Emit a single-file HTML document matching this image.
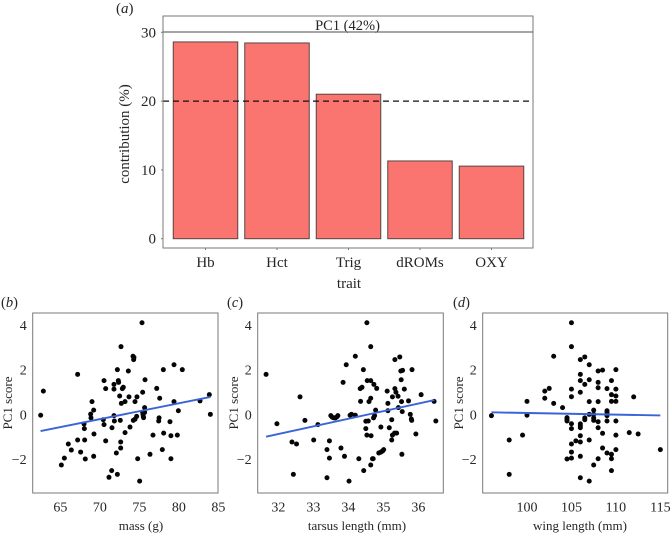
<!DOCTYPE html>
<html>
<head>
<meta charset="utf-8">
<style>
html,body{margin:0;padding:0;background:#fff;width:672px;height:534px;overflow:hidden}
svg{display:block}
text{font-family:"Liberation Serif",serif;fill:#262626}
</style>
</head>
<body>
<svg id="fig" width="672" height="534" viewBox="0 0 672 534" xmlns="http://www.w3.org/2000/svg">
<text x="116" y="13" font-size="15">(<tspan font-style="italic">a</tspan>)</text>
<text x="1" y="307" font-size="14.5">(<tspan font-style="italic">b</tspan>)</text>
<text x="227" y="307" font-size="14.5">(<tspan font-style="italic">c</tspan>)</text>
<text x="453" y="307" font-size="14.5">(<tspan font-style="italic">d</tspan>)</text>
<text transform="translate(129,134) rotate(-90)" font-size="15" text-anchor="middle">contribution (%)</text>
<text x="349" y="288" font-size="15" text-anchor="middle">trait</text>
<text transform="translate(12,403) rotate(-90)" font-size="13" text-anchor="middle">PC1 score</text>
<text x="141" y="530" font-size="13" text-anchor="middle">mass (g)</text>
<text transform="translate(238,403) rotate(-90)" font-size="13" text-anchor="middle">PC1 score</text>
<text x="357" y="530" font-size="13" text-anchor="middle">tarsus length (mm)</text>
<text transform="translate(463,403) rotate(-90)" font-size="13" text-anchor="middle">PC1 score</text>
<text x="580" y="530" font-size="13" text-anchor="middle">wing length (mm)</text>
</svg>
<script>
const traits = ["Hb","Hct","Trig","dROMs","OXY"];
const contributions = [28.6,28.45,21.0,11.3,10.55];
const contributionTicks = [0,10,20,30];
const referenceLevel = 20;
const scoreTicks = [-2,0,2,4];
const massTicks = [65,70,75,80,85];
const tarsusTicks = [32,33,34,35,36];
const wingTicks = [100,105,110,115];

const massX = [62.51,62.85,65.13,65.51,66.01,66.39,67.19,67.19,67.57,68.0,68.04,68.08,68.16,68.84,68.88,69.01,69.22,69.26,69.22,70.44,70.53,70.53,70.74,70.74,71.16,71.5,71.54,71.79,71.79,71.79,71.84,72.09,72.22,72.22,72.34,72.38,72.51,72.59,72.64,72.64,72.68,72.72,72.85,72.97,73.19,73.19,73.61,73.69,73.82,74.2,74.32,74.28,74.24,74.45,74.45,74.66,74.7,74.79,75.04,75.34,75.42,75.42,75.46,75.5,75.54,75.67,75.67,75.72,76.35,76.73,77.2,77.45,77.5,77.58,77.91,78.04,78.08,78.88,79.0,79.0,79.39,79.39,79.81,79.94,80.44,82.68,83.86,83.99];
const massScore = [-0.04,1.04,-2.27,-1.96,-1.33,-1.6,-1.15,1.79,-1.69,-0.43,-0.64,-1.15,-2.0,0.01,-0.16,0.57,0.19,-0.88,-1.88,-0.24,-0.46,1.51,1.15,-1.19,-2.82,-2.52,-0.6,-0.06,1.34,1.13,-0.3,-1.73,2.0,-2.69,1.51,1.43,0.82,-0.27,-1.24,-1.51,3.03,0.49,1.15,1.21,0.57,-0.82,1.94,0.78,-0.57,2.6,2.55,2.45,-0.27,-0.22,0.57,-0.09,0.78,-1.99,-2.99,4.1,0.99,0.09,0,-0.09,-0.15,0.3,0.09,1.55,-1.79,-0.93,1.16,-0.3,-0.16,0.72,-1.58,2.0,-0.84,-0.33,-1.99,-0.96,0.57,2.22,-0.93,0.16,2.0,0.6,0.88,0];
const massFitX = [62.5,84];
const massFitY = [-0.75,0.78];

const tarsusX = [31.65,31.96,32.39,32.43,32.52,32.62,32.76,33.01,33.13,33.39,33.39,33.46,33.46,33.5,33.54,33.59,33.63,33.67,33.7,33.79,33.85,33.89,33.94,34.02,34.05,34.09,34.2,34.2,34.3,34.34,34.35,34.39,34.43,34.44,34.5,34.5,34.53,34.53,34.54,34.57,34.59,34.64,34.64,34.64,34.64,34.65,34.69,34.71,34.72,34.73,34.75,34.78,34.81,34.87,34.93,34.93,34.98,35.01,35.11,35.13,35.13,35.17,35.24,35.24,35.26,35.26,35.32,35.33,35.33,35.36,35.38,35.42,35.43,35.47,35.5,35.51,35.52,35.53,35.54,35.55,35.6,35.72,35.77,35.8,35.81,35.82,35.93,36.08,36.45,36.5];
const tarsusScore = [1.79,-0.42,-1.24,-2.69,-1.33,0.78,-0.27,-1.15,-0.46,-1.58,-2.84,-1.19,-1.96,-0.06,-0.13,-0.16,-0.16,-0.12,-0.06,-1.51,1.43,-1.88,2.22,-2.99,-0.04,0,-0.04,2.6,-1.99,1.15,0.58,1.21,2.0,-2.52,-0.64,-0.31,4.1,-0.93,1.51,-0.3,0.57,3.03,1.51,0.72,-2.27,-0.96,-1.99,-1.99,-0.16,1.34,-0.06,0.19,1.16,-1.73,-0.57,-1.69,-1.64,-1.58,1.04,0.49,0.16,-0.6,-0.24,-1.15,0.78,-0.93,-0.84,2.45,1.15,0.99,-0.84,0.81,0.3,2.57,1.94,1.55,0.57,-1.79,0.12,1.97,1.13,0.6,0,-0.21,-0.27,2.0,-0.88,0.88,0.58,-0.3];
const tarsusFitX = [31.65,36.46];
const tarsusFitY = [-1.0,0.64];

const wingX = [96,98,98,99.5,100,100,102,102,102.5,103,103,104,104.5,104.5,104.5,104.5,105,105,105,105,105,105,105,105,105,105.5,106,106,106,106,106,106,106,106,106,106,106,106.5,106.5,106.5,106.5,107,107,107,107,107,107,107.5,107.5,107.5,107.5,107.5,108,108,108,108,108,108,108,108.5,108.5,108.5,109,109,109,109,109,109,109.5,109.5,109.5,109.5,109.5,109.5,110,110,110,110,110,110,110,111.5,112,112.5,115];
const wingScore = [-0.06,-1.15,-2.69,-0.93,0.58,-0.04,1.04,0.72,1.16,2.6,0.49,0.3,-0.15,-0.22,-0.3,-2.0,4.1,3.03,1.13,0.79,-0.42,-0.64,-1.33,-1.69,-1.96,-1.19,2.45,1.79,1.51,0.99,-0.43,-0.52,-0.6,-0.96,-1.24,-1.88,-2.84,2.57,1.34,-0.16,-0.24,2.22,1.55,0.57,0,-1.15,-2.99,0.19,0,-0.16,-0.27,-2.27,1.94,1.43,1.19,0.57,-0.33,-0.6,-1.99,1.98,-0.85,-1.51,1.15,0.16,0.09,-0.06,-0.3,-1.73,1.51,0.88,0.58,-1.79,-1.99,-2.52,2.0,1.13,0.82,0.58,-0.3,-0.93,-1.58,-0.82,0.78,-0.88,-1.58];
const wingFitX = [96,115];
const wingFitY = [0.09,-0.05];

const NS = "http://www.w3.org/2000/svg";
const fig = document.getElementById("fig");
const axisColor = "#7a7a7a";

function make(tag, attrs, text) {
  const el = document.createElementNS(NS, tag);
  for (const k in attrs) el.setAttribute(k, attrs[k]);
  if (text !== undefined) el.textContent = text;
  fig.appendChild(el);
  return el;
}

/* Panel a */
const barTop = 32, barBottom = 248, barLeft = 163, barRight = 533;
const contributionY = v => 238.7 - v * 6.88;
const traitX = i => 205.5 + i * 71.5;
const barWidth = 64.5;

const strip = make("rect", {x: barLeft, y: 16, width: barRight - barLeft, height: barTop - 16, fill: "#fff", stroke: "#777", "stroke-width": 1});


const stripLine = make("line", {x1: barLeft, x2: barRight, y1: barTop, y2: barTop, stroke: "#444", "stroke-width": 1.2});


const stripTitle = make("text", {x: 347.5, y: 30, "font-size": 14.5, "text-anchor": "middle"}, "PC1 (42%)");



contributions.forEach((v, i) => {
  const bar = make("rect", {x: traitX(i) - barWidth / 2, y: contributionY(v), width: barWidth, height: contributionY(0) - contributionY(v), fill: "#fb7570", stroke: "#574543", "stroke-width": 1});
  
  
  const tick = make("line", {x1: traitX(i), x2: traitX(i), y1: barBottom, y2: barBottom + 2, stroke: axisColor, "stroke-width": 1});
  
  
  const label = make("text", {x: traitX(i), y: 267, "font-size": 15, "text-anchor": "middle"}, traits[i]);
  
  
});

const refLine = make("line", {x1: barLeft, x2: barRight, y1: contributionY(referenceLevel), y2: contributionY(referenceLevel), stroke: "#111", "stroke-width": 1.3, "stroke-dasharray": "6 4"});



contributionTicks.forEach(v => {
  const tick = make("line", {x1: barLeft - 2, x2: barLeft, y1: contributionY(v), y2: contributionY(v), stroke: axisColor, "stroke-width": 1});
  
  
  const label = make("text", {x: barLeft - 7, y: contributionY(v) + 5, "font-size": 15, "text-anchor": "end"}, v);
  
  
});

const barFrame = make("rect", {x: barLeft, y: barTop, width: barRight - barLeft, height: barBottom - barTop, fill: "none", stroke: axisColor, "stroke-width": 1});



/* Scatter panels */
const scatterTop = 313, scatterBottom = 493;
const scoreY = v => 414.33 - v * 22.33;

function drawScatter(id, left, right, xScale, xs, ys, fitX, fitY, xTicks) {
  xs.forEach((v, i) => {
    const dot = make("circle", {cx: xScale(v), cy: scoreY(ys[i]), r: 2.5, fill: "#050505"});
    
    
  });
  const fit = make("line", {x1: xScale(fitX[0]), y1: scoreY(fitY[0]), x2: xScale(fitX[1]), y2: scoreY(fitY[1]), stroke: "#3a63d8", "stroke-width": 1.9});
  
  
  const frame = make("rect", {x: left, y: scatterTop, width: right - left, height: scatterBottom - scatterTop, fill: "none", stroke: axisColor, "stroke-width": 1});
  
  
  scoreTicks.forEach(v => {
    const label = make("text", {x: left - 6, y: scoreY(v) + 5, "font-size": 14, "text-anchor": "end"}, String(v).replace("-", "\u2212"));
    
    
  });
  xTicks.forEach(v => {
    const label = make("text", {x: xScale(v), y: 511.5, "font-size": 14, "text-anchor": "middle"}, v);
    
    
  });
}

drawScatter("b", 32.7, 218, v => 60.33 + (v - 65) * 7.9, massX, massScore, massFitX, massFitY, massTicks);
drawScatter("c", 257.7, 443.3, v => 278.33 + (v - 32) * 35, tarsusX, tarsusScore, tarsusFitX, tarsusFitY, tarsusTicks);
drawScatter("d", 482.7, 667.7, v => 527 + (v - 100) * 8.89, wingX, wingScore, wingFitX, wingFitY, wingTicks);
</script>
</body>
</html>
